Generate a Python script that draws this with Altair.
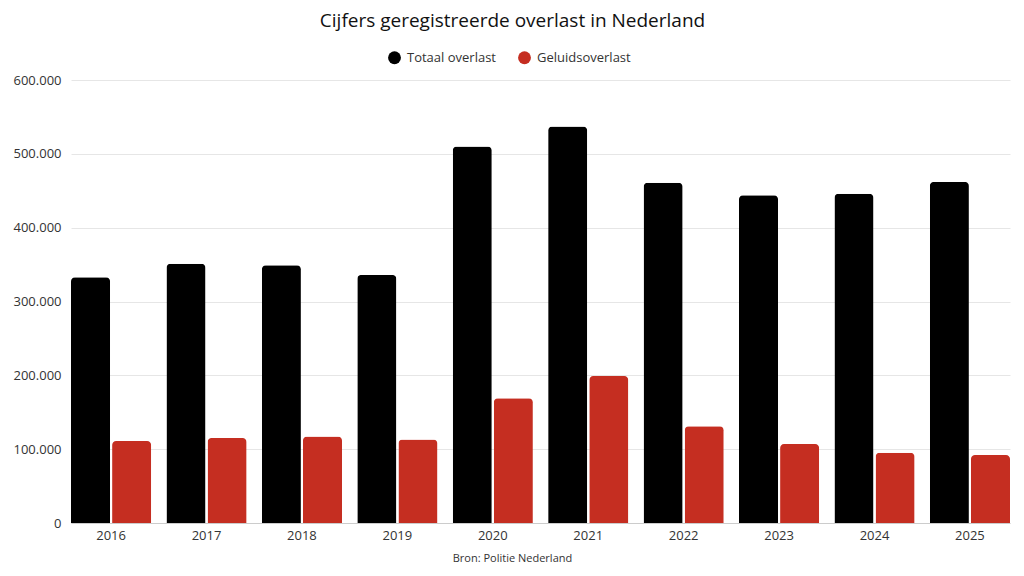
import altair as alt
import pandas as pd

years = ["2016", "2017", "2018", "2019", "2020", "2021", "2022", "2023", "2024", "2025"]
totaal = [333000, 351000, 349000, 336000, 510000, 537000, 461000, 444000, 446000, 462000]
geluid = [111000, 115000, 117000, 113000, 169000, 199000, 131000, 107000, 95000, 92000]
series = ["Totaal overlast", "Geluidsoverlast"]
colors = ["#000000", "#c52e21"]

rows = []
for y, t, g in zip(years, totaal, geluid):
    rows.append({"jaar": y, "reeks": series[0], "waarde": t})
    rows.append({"jaar": y, "reeks": series[1], "waarde": g})
df = pd.DataFrame(rows)

FONT = "Open Sans"

chart = alt.Chart(df).mark_bar(cornerRadiusTopLeft=4, cornerRadiusTopRight=4).encode(
    x=alt.X("jaar:N", sort=years,
            scale=alt.Scale(paddingInner=0.16, paddingOuter=0),
            axis=alt.Axis(title="Bron: Politie Nederland", labelAngle=0, ticks=False,
                          labelFontSize=13, labelColor="#333333", labelPadding=6,
                          labelFont=FONT, domainColor="#cccccc",
                          titleFont=FONT, titleFontSize=11, titleFontWeight="normal",
                          titleColor="#333333", titleX=441, titleY=35,
                          titleBaseline="middle")),
    xOffset=alt.XOffset("reeks:N", sort=series,
                        scale=alt.Scale(paddingInner=0.05, paddingOuter=0)),
    y=alt.Y("waarde:Q", scale=alt.Scale(domain=[0, 600000]),
            axis=alt.Axis(title=None, values=[0, 100000, 200000, 300000, 400000, 500000, 600000],
                          labelExpr="replace(format(datum.value, ','), ',', '.')",
                          ticks=False, domain=False, gridColor="#e6e6e6",
                          labelFontSize=13, labelColor="#333333", labelPadding=10,
                          labelFont=FONT)),
    color=alt.Color("reeks:N", sort=series,
                    scale=alt.Scale(domain=series, range=colors),
                    legend=alt.Legend(title=None, orient="none", direction="horizontal",
                                      legendX=317, legendY=-29, symbolType="circle",
                                      symbolSize=165, symbolStrokeWidth=0,
                                      labelFontSize=13, labelColor="#333333",
                                      labelFont=FONT, columnPadding=22, labelOffset=6)),
).properties(
    width=939,
    height=443,
    background="white",
    title=alt.TitleParams("Cijfers geregistreerde overlast in Nederland",
                          font=FONT, fontSize=19, fontWeight="normal",
                          color="#111111", anchor="middle", dx=-28, offset=20),
    autosize=alt.AutoSizeParams(type="none"),
    padding={"left": 63, "top": 72, "right": 6, "bottom": 45},
).configure_view(stroke=None, strokeWidth=0)

chart.save("out.html", embed_options={"renderer": "svg", "actions": False})
